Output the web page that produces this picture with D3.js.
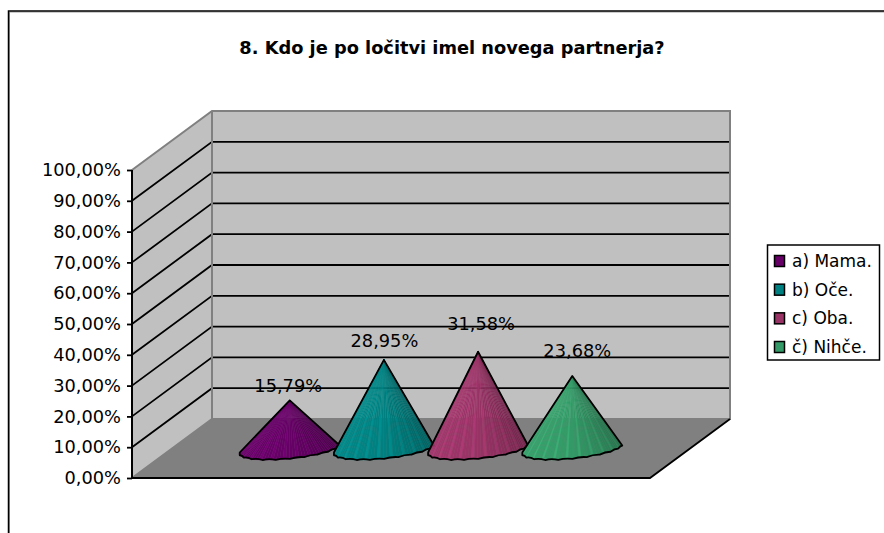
<!DOCTYPE html>
<html>
<head>
<meta charset="utf-8">
<script src="https://cdn.jsdelivr.net/npm/d3@7"></script>
<style>
  body { margin: 0; background: #fff; }
  svg { display: block; }
  text { font-family: "DejaVu Sans", sans-serif; fill: #000; }
</style>
</head>
<body>
<div id="chart"></div>
<script>
//Datos
const CATEGORIES = ['a) Mama.', 'b) Oče.', 'c) Oba.', 'č) Nihče.'];
const VALUES = [15.79, 28.95, 31.58, 23.68];
const Y_TICKS = [0, 10, 20, 30, 40, 50, 60, 70, 80, 90, 100];
const TITLE = '8. Kdo je po ločitvi imel novega partnerja?';

//Colores fijos
const COLORS = ['#660066', '#008080', '#993366', '#339966'];
const COLOR_WALL = '#C0C0C0', COLOR_FLOOR = '#808080', COLOR_EDGE = '#808080';

const width = 884, height = 533;
const FONT_SIZE = 17.8;

//Caja 3D: pared frontal y desplazamiento de profundidad
const box = { left: 132, right: 650, top: 170, bottom: 478, dx: 80, dy: -59 };

function percent(d) {
    return d3.format('.2f')(d).replace('.', ',') + '%';
}

const svg = d3.select('#chart').append('svg')
    .attr('width', width)
    .attr('height', height);

//Borde del gráfico
svg.append('path')
    .attr('d', 'M9.5,' + height + 'V12H' + width)
    .attr('fill', 'none')
    .attr('stroke', '#999')
    .attr('stroke-width', 1);
svg.append('path')
    .attr('d', 'M8.5,' + height + 'V11H' + width)
    .attr('fill', 'none')
    .attr('stroke', '#000')
    .attr('stroke-width', 1.5);

svg.append('text')
    .attr('x', 452)
    .attr('y', 54)
    .attr('text-anchor', 'middle')
    .attr('font-size', FONT_SIZE)
    .attr('font-weight', 'bold')
    .text(TITLE);

const y = d3.scaleLinear().domain([0, 100]).range([box.bottom, box.top]);
const x = d3.scaleBand()
    .domain(CATEGORIES)
    .range([box.left, box.right])
    .paddingInner(0)
    .paddingOuter(0.75);

const g3d = svg.append('g');

//Pared del fondo
g3d.append('rect')
    .attr('x', box.left + box.dx)
    .attr('y', y(100) + box.dy)
    .attr('width', box.right - box.left)
    .attr('height', y(0) - y(100))
    .attr('fill', COLOR_WALL);

//Pared lateral
g3d.append('path')
    .attr('d', d3.line()([
        [box.left, y(100)], [box.left + box.dx, y(100) + box.dy],
        [box.left + box.dx, y(0) + box.dy], [box.left, y(0)]
    ]) + 'Z')
    .attr('fill', COLOR_WALL);

//Suelo
g3d.append('path')
    .attr('d', d3.line()([
        [box.left, y(0)], [box.left + box.dx, y(0) + box.dy],
        [box.right + box.dx, y(0) + box.dy], [box.right, y(0)]
    ]) + 'Z')
    .attr('fill', COLOR_FLOOR);

//Rejilla
g3d.selectAll('path.grid')
    .data(Y_TICKS.slice(1, -1))
    .enter()
    .append('path')
    .attr('class', 'grid')
    .attr('d', function(d) {
        return d3.line()([
            [box.left, y(d)], [box.left + box.dx, y(d) + box.dy], [box.right + box.dx, y(d) + box.dy]
        ]);
    })
    .attr('fill', 'none')
    .attr('stroke', '#000')
    .attr('stroke-width', 1.8);

//Aristas grises
g3d.append('path')
    .attr('d', d3.line()([
        [box.left, y(100)], [box.left + box.dx, y(100) + box.dy], [box.right + box.dx, y(100) + box.dy],
        [box.right + box.dx, y(0) + box.dy], [box.left + box.dx, y(0) + box.dy], [box.left, y(0)]
    ]))
    .attr('fill', 'none')
    .attr('stroke', COLOR_EDGE)
    .attr('stroke-width', 2);
g3d.append('line')
    .attr('x1', box.left + box.dx).attr('x2', box.left + box.dx)
    .attr('y1', y(100) + box.dy).attr('y2', y(0) + box.dy)
    .attr('stroke', COLOR_EDGE)
    .attr('stroke-width', 2);

//Borde delantero del suelo
g3d.append('path')
    .attr('d', d3.line()([
        [box.left, y(0)], [box.right, y(0)], [box.right + box.dx, y(0) + box.dy]
    ]))
    .attr('fill', 'none')
    .attr('stroke', '#000')
    .attr('stroke-width', 1.8);

//Eje Y
const axis = svg.append('g')
    .attr('transform', 'translate(' + box.left + ',0)')
    .call(d3.axisLeft(y)
        .tickValues(Y_TICKS)
        .tickSize(5)
        .tickPadding(6)
        .tickFormat(percent));
axis.select('.domain').attr('stroke-width', 2).attr('d', 'M0,' + y(100) + 'V' + y(0));
axis.selectAll('.tick line').attr('stroke-width', 1.8);
axis.selectAll('text').attr('font-size', FONT_SIZE).attr('font-family', '"DejaVu Sans", sans-serif');

//Conos
const CONE_R = 50;
const DEPTH_X = -7, DEPTH_Y = 10.5, TILT = -3.5;
const N_FACETS = 48, N_OUTLINE = 11;

function basePoint(cx, cy, t) {
    return [
        cx + CONE_R * Math.cos(t) + DEPTH_X * Math.sin(t),
        cy + TILT * Math.cos(t) + DEPTH_Y * Math.sin(t)
    ];
}

VALUES.forEach(function(v, i) {
    const cx = x(CATEGORIES[i]) + x.bandwidth() / 2 + box.dx / 2;
    const cy = y(0) + box.dy / 2 + 0.5;
    const apex = [cx, cy - (y(0) - y(v))];
    const color = COLORS[i];
    const shade = d3.scaleLinear()
        .domain([0, 0.55, 1])
        .range([d3.color(color).brighter(0.25), d3.color(color), d3.color(color).darker(0.85)])
        .interpolate(d3.interpolateRgb);

    const cone = svg.append('g').attr('class', 'cone');

    //Facetas de izquierda a derecha
    const ts = d3.range(N_FACETS).map(function(k) { return Math.PI - Math.PI * k / N_FACETS; });
    cone.selectAll('path.facet')
        .data(ts)
        .enter()
        .append('path')
        .attr('class', 'facet')
        .attr('d', function(t) {
            return d3.line()([apex, basePoint(cx, cy, t), basePoint(cx, cy, t - Math.PI / N_FACETS)]) + 'Z';
        })
        .attr('fill', function(t, k) {
            const c = d3.color(shade(k / (N_FACETS - 1)));
            return k % 4 == 0 ? c.brighter(0.3) : c;
        })
        .attr('stroke', function(t, k) { return shade(k / (N_FACETS - 1)); })
        .attr('stroke-width', 0.3);

    //Contorno: base festoneada y lados
    const outline = d3.range(N_OUTLINE + 1).map(function(k) {
        return basePoint(cx, cy, Math.PI - Math.PI * k / N_OUTLINE);
    });
    const p = d3.path();
    p.moveTo(apex[0], apex[1]);
    p.lineTo(outline[0][0], outline[0][1]);
    outline.slice(1).forEach(function(pt, k) {
        const prev = outline[k];
        p.quadraticCurveTo((prev[0] + pt[0]) / 2, (prev[1] + pt[1]) / 2 - 1.5, pt[0], pt[1]);
    });
    p.closePath();
    cone.append('path')
        .attr('d', p.toString())
        .attr('fill', 'none')
        .attr('stroke', '#000')
        .attr('stroke-width', 1.8)
        .attr('stroke-linejoin', 'round');
});

//Etiquetas: ajuste
const LABEL_NUDGE = [-7.5, -12, -21, -18.6];
const LABEL_SHIFT = [-1.5, 0.5, 3, 5];
svg.selectAll('text.label')
    .data(VALUES)
    .enter()
    .append('text')
    .attr('class', 'label')
    .attr('x', function(d, i) { return x(CATEGORIES[i]) + x.bandwidth() / 2 + box.dx / 2 + LABEL_SHIFT[i]; })
    .attr('y', function(d, i) { return y(d) + box.dy / 2 + LABEL_NUDGE[i]; })
    .attr('text-anchor', 'middle')
    .attr('font-size', FONT_SIZE)
    .text(percent);

//Leyenda
const legendY = d3.scalePoint().domain(CATEGORIES).range([261, 347]);
const legend = svg.append('g');
legend.append('rect')
    .attr('x', 767.5).attr('y', 245)
    .attr('width', 112).attr('height', 115)
    .attr('fill', '#fff')
    .attr('stroke', '#000')
    .attr('stroke-width', 1.5);
const items = legend.selectAll('g.item')
    .data(CATEGORIES)
    .enter()
    .append('g')
    .attr('class', 'item')
    .attr('transform', function(d) { return 'translate(0,' + legendY(d) + ')'; });
items.append('rect')
    .attr('x', 774.5).attr('y', -5.5)
    .attr('width', 10).attr('height', 11)
    .attr('fill', function(d, i) { return COLORS[i]; })
    .attr('stroke', '#000')
    .attr('stroke-width', 1.5);
items.append('text')
    .attr('x', 792)
    .attr('y', 6)
    .attr('font-size', 17)
    .text(function(d) { return d; });
</script>
</body>
</html>
